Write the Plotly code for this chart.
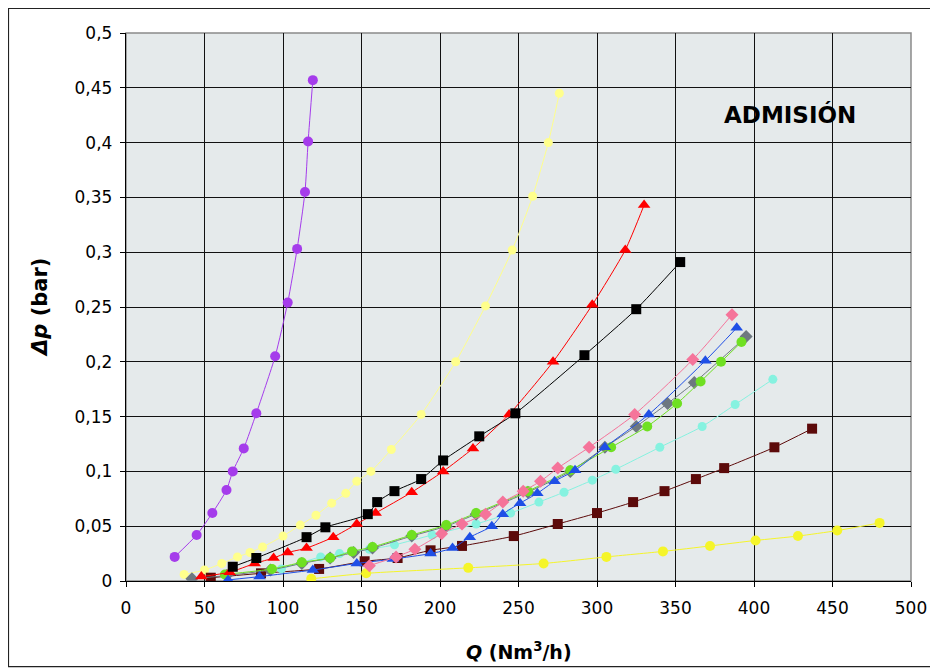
import plotly.graph_objects as go

# ---------------- data ----------------
purple_x = [31, 45, 55, 64, 68, 75, 83, 95, 103, 109, 114, 116, 119]
purple_y = [0.022, 0.042, 0.062, 0.083, 0.100, 0.121, 0.153, 0.205, 0.254, 0.303, 0.355, 0.401, 0.457]

paleyellow_x = [37, 50, 61, 71, 79, 87, 100, 111, 121, 131, 140, 147, 156, 169, 188, 210, 229, 246, 259, 269, 276]
paleyellow_y = [0.006, 0.010, 0.016, 0.022, 0.026, 0.031, 0.041, 0.051, 0.060, 0.071, 0.080, 0.091, 0.100, 0.120, 0.152, 0.200, 0.251, 0.302, 0.351, 0.400, 0.445]

black_x = [68, 83, 115, 127, 154, 160, 171, 188, 202, 225, 248, 292, 325, 353]
black_y = [0.013, 0.021, 0.040, 0.049, 0.061, 0.072, 0.082, 0.093, 0.110, 0.132, 0.153, 0.206, 0.248, 0.291]

red_x = [48, 66, 82, 94, 103, 115, 132, 147, 159, 182, 202, 221, 244, 272, 297, 318, 330]
red_y = [0.004, 0.008, 0.016, 0.021, 0.026, 0.030, 0.040, 0.052, 0.062, 0.081, 0.100, 0.121, 0.152, 0.200, 0.252, 0.302, 0.343]

pink_x = [155, 172, 184, 201, 214, 229, 240, 253, 264, 275, 295, 324, 361, 386]
pink_y = [0.014, 0.022, 0.029, 0.043, 0.052, 0.061, 0.072, 0.082, 0.091, 0.103, 0.122, 0.152, 0.202, 0.243]

blue_x = [65, 85, 119, 147, 170, 194, 208, 219, 233, 240, 251, 262, 273, 286, 305, 333, 369, 389]
blue_y = [0.001, 0.004, 0.010, 0.016, 0.020, 0.025, 0.030, 0.040, 0.050, 0.061, 0.071, 0.080, 0.091, 0.101, 0.122, 0.152, 0.201, 0.231]

gray_x = [42, 64, 92, 112, 130, 145, 157, 182, 204, 223, 256, 283, 305, 325, 345, 362, 395]
gray_y = [0.002, 0.005, 0.010, 0.016, 0.021, 0.026, 0.030, 0.041, 0.050, 0.061, 0.081, 0.100, 0.122, 0.141, 0.162, 0.181, 0.223]

green_x = [63, 93, 112, 130, 144, 157, 182, 204, 223, 256, 283, 309, 332, 351, 366, 379, 392]
green_y = [0.006, 0.011, 0.017, 0.021, 0.027, 0.031, 0.042, 0.051, 0.062, 0.082, 0.101, 0.122, 0.141, 0.162, 0.182, 0.200, 0.218]

cyan_x = [99, 124, 136, 155, 171, 195, 223, 245, 263, 279, 297, 312, 340, 367, 388, 412]
cyan_y = [0.011, 0.022, 0.025, 0.029, 0.033, 0.042, 0.052, 0.062, 0.072, 0.081, 0.092, 0.102, 0.122, 0.141, 0.161, 0.184]

brown_x = [54, 86, 123, 152, 173, 194, 214, 247, 275, 300, 323, 343, 363, 381, 413, 437]
brown_y = [0.003, 0.007, 0.011, 0.018, 0.021, 0.028, 0.032, 0.041, 0.052, 0.062, 0.072, 0.082, 0.093, 0.103, 0.122, 0.139]

yellow_x = [118, 153, 218, 266, 306, 342, 372, 401, 428, 453, 480]
yellow_y = [0.002, 0.007, 0.012, 0.016, 0.022, 0.027, 0.032, 0.037, 0.041, 0.046, 0.053]

x_ticks = [0, 50, 100, 150, 200, 250, 300, 350, 400, 450, 500]
y_ticks = [0, 0.05, 0.1, 0.15, 0.2, 0.25, 0.3, 0.35, 0.4, 0.45, 0.5]
y_ticktext = ["0", "0,05", "0,1", "0,15", "0,2", "0,25", "0,3", "0,35", "0,4", "0,45", "0,5"]

# ---------------- figure ----------------
series = [
    (paleyellow_x, paleyellow_y, "#FFFF8C", "circle", 9),
    (yellow_x, yellow_y, "#F5F52A", "circle", 10),
    (brown_x, brown_y, "#5C0A0A", "square", 10),
    (cyan_x, cyan_y, "#86F2E0", "circle", 9),
    (gray_x, gray_y, "#6E7880", "diamond", 10),
    (green_x, green_y, "#6FE022", "circle", 10),
    (blue_x, blue_y, "#1F4FE6", "triangle-up", 11),
    (pink_x, pink_y, "#F5749A", "diamond", 10),
    (red_x, red_y, "#FF0000", "triangle-up", 11),
    (black_x, black_y, "#000000", "square", 10),
    (purple_x, purple_y, "#A53CEB", "circle", 10),
]

fig = go.Figure()
for xs, ys, col, sym, sz in series:
    fig.add_trace(go.Scatter(
        x=xs, y=ys, mode="lines+markers",
        line=dict(color=col, width=1, shape="spline", smoothing=0.6),
        marker=dict(color=col, symbol=sym, size=sz, line=dict(width=0)),
        showlegend=False, hoverinfo="skip",
    ))

font_family = "DejaVu Sans, Liberation Sans, Arial, sans-serif"

fig.update_layout(
    width=930, height=660,
    margin=dict(l=118, r=27, t=25, b=87),
    paper_bgcolor="white",
    plot_bgcolor="#E5EAEB",
    font=dict(family=font_family, size=17, color="black"),
    showlegend=False,
)

fig.update_xaxes(
    range=[0, 500], tickvals=x_ticks, ticktext=[str(v) for v in x_ticks],
    showgrid=True, gridcolor="#111111", gridwidth=1.4,
    showline=True, linecolor="black", linewidth=1.4,
    ticks="outside", ticklen=5, tickcolor="black",
    zeroline=False, tickfont=dict(size=17), ticklabelstandoff=6,
)
fig.update_yaxes(
    range=[0, 0.5], tickvals=y_ticks, ticktext=y_ticktext,
    showgrid=True, gridcolor="#111111", gridwidth=1.4,
    showline=True, linecolor="black", linewidth=1.4,
    ticks="outside", ticklen=5, tickcolor="black",
    zeroline=False, tickfont=dict(size=17), ticklabelstandoff=4,
)

# plot-area top/right border (gray) and outer chart border
fig.add_shape(type="rect", xref="paper", yref="paper", x0=0, x1=1, y0=0, y1=1,
              line=dict(color="#8A8A8A", width=1.5), layer="below")
fig.add_shape(type="rect", xref="paper", yref="paper",
              x0=-0.1497, x1=1.0293, y0=-0.1562, y1=1.0447,
              line=dict(color="#222222", width=1.2))

fig.add_annotation(text="<b>ADMISIÓN</b>", x=423, y=0.426, xref="x", yref="y",
                   showarrow=False, font=dict(size=23, color="black", family=font_family))
fig.add_annotation(text="<b><i>Q</i> (Nm<sup>3</sup>/h)</b>", x=0.5, y=-0.128,
                   xref="paper", yref="paper", xanchor="center", yanchor="middle",
                   showarrow=False, font=dict(size=19, family=font_family))
fig.add_annotation(text="<b><i>Δp</i> (bar)</b>", x=-0.1096, y=0.50,
                   xref="paper", yref="paper", xanchor="center", yanchor="middle",
                   showarrow=False, textangle=-90,
                   font=dict(size=21, family=font_family))

fig.write_html("out.html")
